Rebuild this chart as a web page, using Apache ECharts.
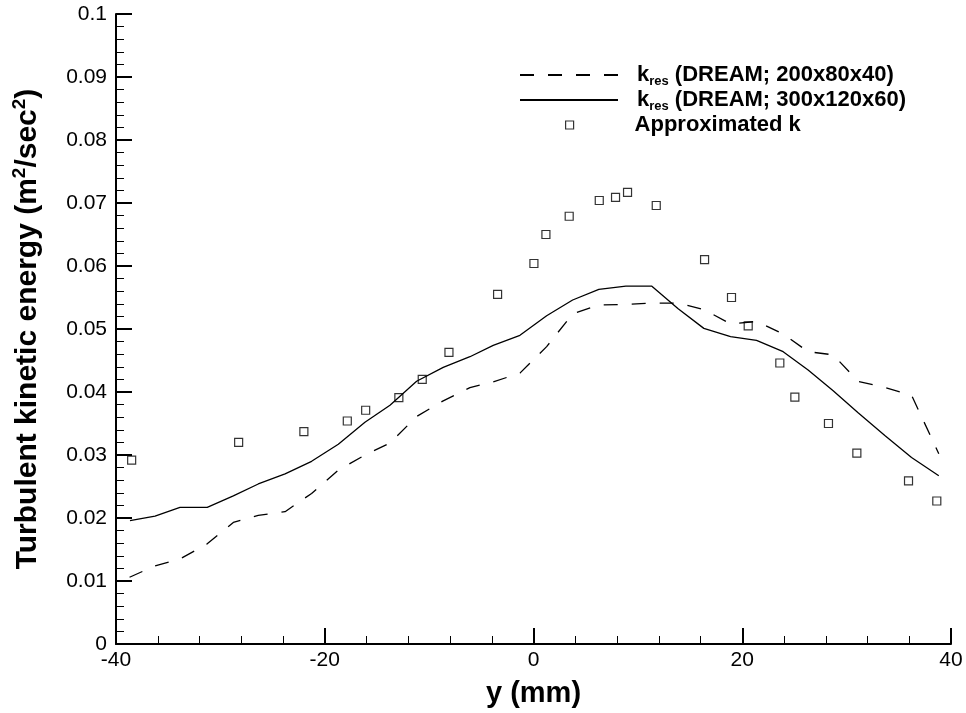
<!DOCTYPE html>
<html>
<head>
<meta charset="utf-8">
<script src="https://cdn.jsdelivr.net/npm/echarts@6/dist/echarts.min.js"></script>
<style>
  html, body { margin: 0; padding: 0; background: #fff; }
  #chart { width: 966px; height: 713px; }
</style>
</head>
<body>
<div id="chart"></div>
<script>
// Resolved turbulent kinetic energy on the coarse grid (200x80x40)
const coarseY = [-38.7, -36.26, -33.87, -31.26, -28.76, -26.37, -23.8, -21.26, -18.7, -16.15, -13.75, -11.2, -8.65, -6.09, -3.86, -1.3, 1.26, 3.75, 6.26, 8.85, 11.34, 13.86, 16.32, 18.88, 21.37, 23.92, 26.31, 28.71, 31.1, 33.66, 36.22, 38.83];
const coarseK = [0.0106, 0.0124, 0.0135, 0.0159, 0.0193, 0.0204, 0.0210, 0.0239, 0.0276, 0.0300, 0.0319, 0.0361, 0.0386, 0.0407, 0.0416, 0.0430, 0.0472, 0.0524, 0.0538, 0.0539, 0.0541, 0.0541, 0.0531, 0.0508, 0.0512, 0.0492, 0.0464, 0.0459, 0.0417, 0.0407, 0.0395, 0.0302];

// Resolved turbulent kinetic energy on the fine grid (300x120x60)
const fineY = [-38.66, -36.26, -33.87, -31.26, -28.76, -26.37, -23.8, -21.26, -18.7, -16.15, -13.75, -11.2, -8.65, -6.09, -3.86, -1.3, 1.26, 3.75, 6.26, 8.85, 11.34, 13.86, 16.32, 18.88, 21.37, 23.92, 26.31, 28.71, 31.1, 33.66, 36.22, 38.83];
const fineK = [0.0196, 0.0203, 0.0217, 0.0217, 0.0235, 0.0254, 0.0270, 0.0290, 0.0317, 0.0352, 0.0379, 0.0417, 0.0439, 0.0456, 0.0474, 0.0490, 0.0521, 0.0546, 0.0563, 0.0568, 0.0568, 0.0532, 0.0501, 0.0488, 0.0482, 0.0464, 0.0435, 0.0402, 0.0367, 0.0331, 0.0296, 0.0267];

// Approximated k (measurement-based estimate)
const approxY = [-38.5, -28.25, -22.0, -17.84, -16.08, -12.9, -10.66, -8.1, -3.44, 0.04, 1.19, 3.42, 6.3, 7.86, 9.01, 11.76, 16.39, 18.97, 20.57, 23.6, 25.04, 28.26, 30.98, 35.93, 38.64];
const approxK = [0.0292, 0.0320, 0.0337, 0.0354, 0.0371, 0.0391, 0.0420, 0.0463, 0.0555, 0.0604, 0.0650, 0.0679, 0.0704, 0.0709, 0.0717, 0.0696, 0.0610, 0.0550, 0.0505, 0.0446, 0.0392, 0.0350, 0.0303, 0.0259, 0.0227];

// Axis tick labels
const xTicks = [-40, -20, 0, 20, 40];
const yTicks = [0, 0.01, 0.02, 0.03, 0.04, 0.05, 0.06, 0.07, 0.08, 0.09, 0.1];

const NAME_COARSE = 'kres (DREAM; 200x80x40)';
const NAME_FINE = 'kres (DREAM; 300x120x60)';
const NAME_APPROX = 'Approximated k';

const FONT = '"Liberation Sans", Arial, sans-serif';
const pairs = (xs, ys) => xs.map((x, i) => [x, ys[i]]);

const axisCommon = {
  type: 'value',
  axisLine: { show: true, onZero: false, lineStyle: { color: '#000', width: 2 } },
  axisTick: { show: true, inside: true, length: 16, lineStyle: { color: '#000', width: 2 } },
  minorTick: { show: true, splitNumber: 5, length: 8, lineStyle: { color: '#000', width: 1 } },
  splitLine: { show: false },
  minorSplitLine: { show: false },
  axisLabel: { color: '#000', fontSize: 21, fontFamily: FONT }
};

const legendText = {
  color: '#000',
  fontFamily: FONT,
  rich: {
    k: { fontSize: 22, fontWeight: 'bold', fontFamily: FONT, color: '#000', lineHeight: 26 },
    s: { fontSize: 13, fontWeight: 'bold', fontFamily: FONT, color: '#000', lineHeight: 10, verticalAlign: 'bottom' },
    gap: { width: 14 },
    gapWide: { width: 56 }
  }
};

// Line samples only: the marker drawn by the line legend icon is hidden
const legendBase = {
  orient: 'vertical',
  left: 519,
  itemGap: 0,
  padding: 0,
  selectedMode: false,
  itemStyle: { color: 'transparent', borderColor: 'transparent', borderWidth: 0 },
  textStyle: legendText
};

const option = {
  backgroundColor: '#fff',
  animation: false,
  grid: { left: 116, right: 15, top: 14, bottom: 60, containLabel: false },
  xAxis: Object.assign({}, axisCommon, {
    min: xTicks[0],
    max: xTicks[xTicks.length - 1],
    interval: xTicks[1] - xTicks[0],
    axisLabel: Object.assign({}, axisCommon.axisLabel, { margin: 6 }),
    name: 'y (mm)',
    nameLocation: 'middle',
    nameGap: 35,
    nameTextStyle: { color: '#000', fontSize: 29, fontWeight: 'bold', fontFamily: FONT }
  }),
  yAxis: Object.assign({}, axisCommon, {
    min: yTicks[0],
    max: yTicks[yTicks.length - 1],
    interval: 0.01,
    axisLabel: Object.assign({}, axisCommon.axisLabel, {
      margin: 9,
      formatter: v => String(Math.round(v * 100) / 100)
    }),
    name: '{t|Turbulent kinetic energy (m}{p|2}{t|/sec}{p|2}{t|)}',
    nameLocation: 'middle',
    nameGap: 70,
    nameTextStyle: {
      color: '#000',
      fontFamily: FONT,
      rich: {
        t: { fontSize: 30, fontWeight: 'bold', fontFamily: FONT, color: '#000', lineHeight: 36 },
        p: { fontSize: 19, fontWeight: 'bold', fontFamily: FONT, color: '#000', lineHeight: 16, verticalAlign: 'top' }
      }
    }
  }),
  legend: [
    Object.assign({}, legendBase, {
      top: 64,
      itemWidth: 98,
      itemHeight: 14,
      data: [NAME_COARSE],
      formatter: () => '{gap|}{k|k}{s|res}{k| (DREAM; 200x80x40)}'
    }),
    Object.assign({}, legendBase, {
      top: 89,
      itemWidth: 98,
      itemHeight: 14,
      data: [NAME_FINE],
      formatter: () => '{gap|}{k|k}{s|res}{k| (DREAM; 300x120x60)}'
    }),
    Object.assign({}, legendBase, {
      top: 114,
      left: 565,
      itemWidth: 8,
      itemHeight: 8,
      itemStyle: { color: '#fff', borderColor: '#000', borderWidth: 1.2 },
      data: [NAME_APPROX],
      formatter: () => '{gapWide|}{k|Approximated k}'
    })
  ],
  series: [
    {
      name: NAME_COARSE,
      type: 'line',
      data: pairs(coarseY, coarseK),
      symbol: 'none',
      lineStyle: { color: '#000', width: 1.3, type: [14, 14] },
      itemStyle: { color: '#000' }
    },
    {
      name: NAME_FINE,
      type: 'line',
      data: pairs(fineY, fineK),
      symbol: 'none',
      lineStyle: { color: '#000', width: 1.3, type: 'solid' },
      itemStyle: { color: '#000' }
    },
    {
      name: NAME_APPROX,
      type: 'scatter',
      data: pairs(approxY, approxK),
      symbol: 'rect',
      symbolSize: 8,
      itemStyle: { color: '#fff', borderColor: '#000', borderWidth: 1.2 }
    }
  ]
};

const chart = echarts.init(document.getElementById('chart'), null, { renderer: 'canvas' });
chart.setOption(option);
</script>
</body>
</html>
